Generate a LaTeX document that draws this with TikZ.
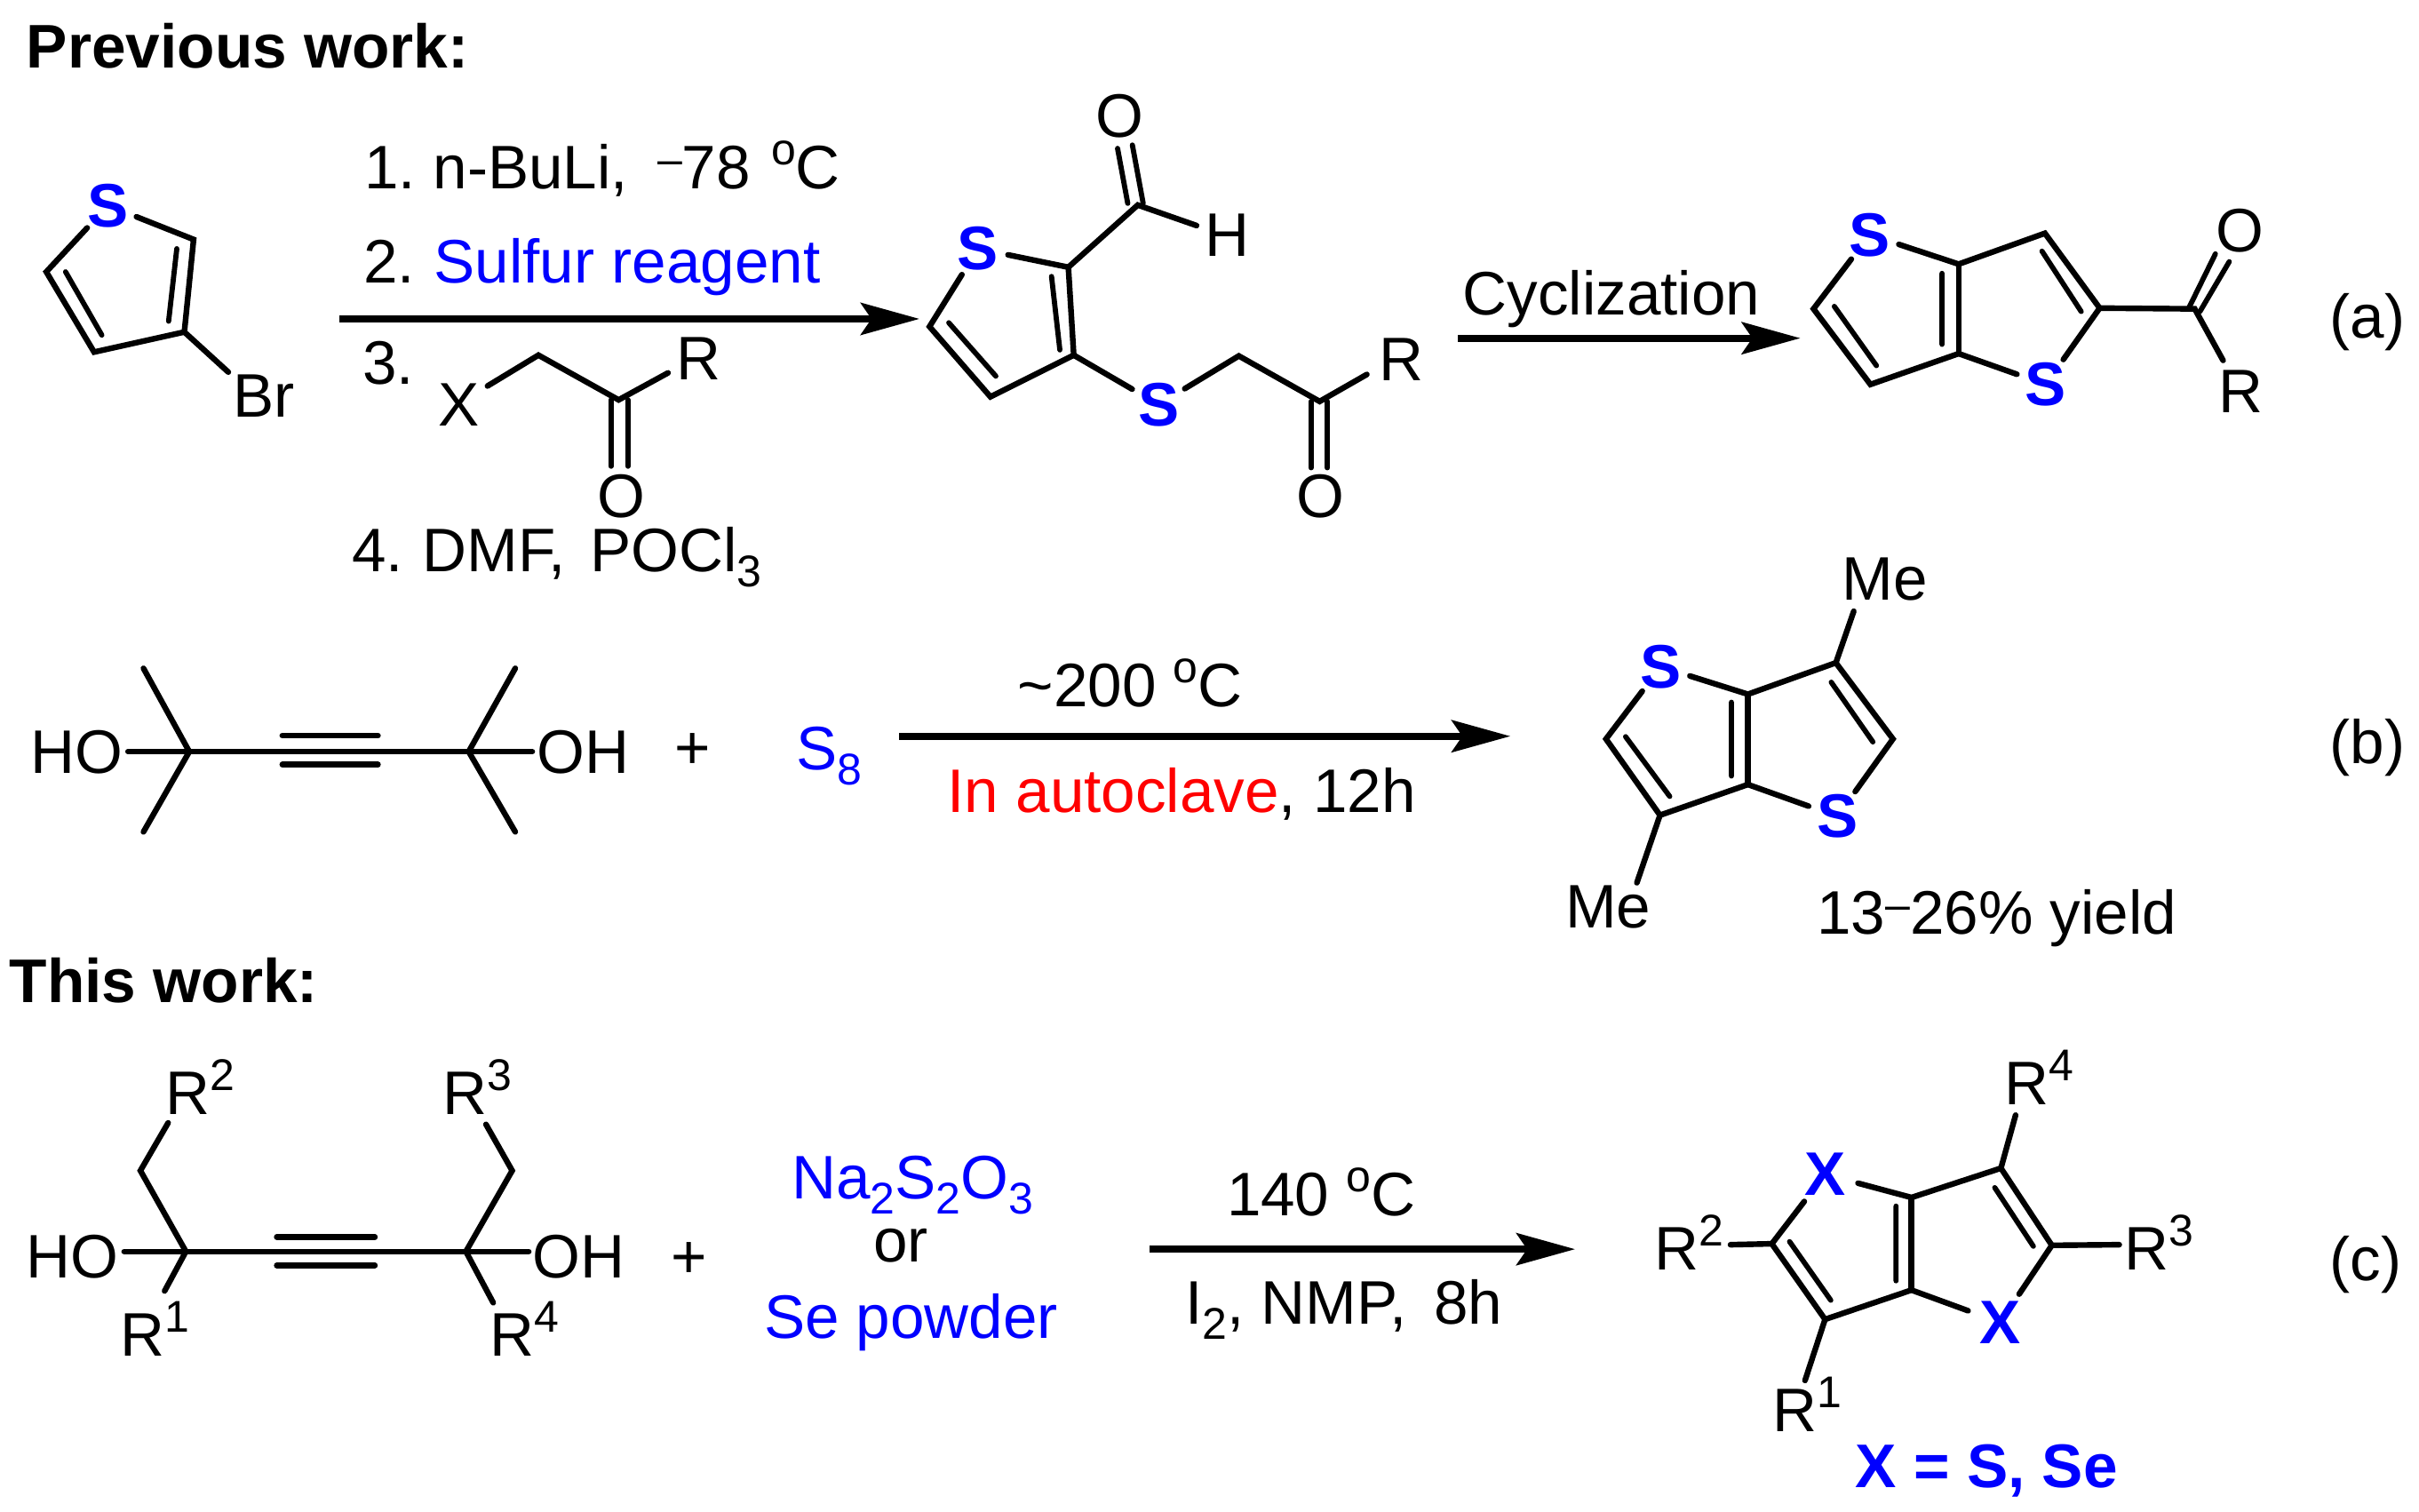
\documentclass[tikz,border=0pt]{standalone}
\usepackage{fontspec}
\setmainfont{Liberation Sans}
\usetikzlibrary{arrows.meta}
\newcommand{\chemsub}[1]{\raisebox{-8.4pt}{\fontsize{25}{30}\selectfont #1}}
\newcommand{\chemsup}[1]{\raisebox{13.6pt}{\fontsize{25}{30}\selectfont #1}}
\newcommand{\smdash}{\raisebox{8pt}{\fontsize{25}{30}\selectfont\textendash}}
\definecolor{pureblue}{RGB}{0,0,255}
\definecolor{purered}{RGB}{255,0,0}
\tikzset{
  txt/.style={inner sep=0pt,anchor=base west,font=\fontsize{34.6}{40}\selectfont},
  head/.style={txt,font=\bfseries\fontsize{34.7}{40}\selectfont},
  atomlabel/.style={circle,inner sep=0pt,minimum size=34pt,text=pureblue,font=\bfseries\fontsize{34.6}{40}\selectfont},
  bond/.style={line width=3.2pt,line cap=round,line join=miter},
  thinbond/.style={line width=2.9pt,line cap=round},
  rxn/.style={line width=3.9pt,-{Stealth[length=33pt,width=18pt,inset=6pt]}},
}
\begin{document}
\begin{tikzpicture}[x=0.86830pt,y=-0.86830pt]
\useasboundingbox (0,-1.2) rectangle (1568,978.8);
% ---------- headings
\node[head] (prev) at (17,43) {Previous work:};
\node[head] (this) at (6,648.5) {This work:};
% ---------- coordinates (atoms and free bond ends)
\foreach \n/\x/\y in {
 a1c2/125.5/154,a1c3/119.5/214,a1c4/61/227,a1c5/30/175,
 a1i1/114.6/160,a1i2/109.3/207,a1i3/42.5/175,a1i4/66/216,a1br/148/240,
 rxe/316/249,rch/349/229,rco/401/258,rr/433/240.5,
 ro1/396/258,ro2/396/301,ro3/407/258,ro4/407/301,
 m2/692.5/172,m3/696/229,m4/642/256,m5/602.5/210.5,
 mi1/681.6/178,mi2/687/225.6,mi3/615/208,mi4/645.5/242.6,
 mc/737.5/131.7,mo1/724.4/95,mo2/731/130.6,mo3/734/92.8,mo4/741/130.6,mh/775.6/145,
 mch/803/229.5,mco/855.4/259,mr/886/241.5,
 mo5/849.7/259,mo6/849.7/302,mo7/860.5/259,mo8/860.5/302,
 p3a/1269.6/170,p3/1325.5/150,p2/1361/198.5,p6a/1269.6/228,p6/1212.4/248,p5/1175.5/199,
 pi1/1258.8/176,pi2/1258.8/222,pi3/1323.6/161.6,pi4/1349/200.7,pi5/1189/197.4,pi6/1216.3/235.8,
 pc/1422.6/199,po1/1436/163.4,po2/1419/198,po3/1445/168.4,po4/1426/200.7,pr/1441/232.4,
 bl/122.7/486,br/303.8/486,bho/83/486,boh/345/486,
 bm1/93/432,bm2/93/538,bm3/334/432,bm4/334/538,
 bt1/183/475.6,bt2/245/475.6,bt3/183/494.4,bt4/245/494.4,
 q3a/1133/448.8,q3/1190/428.4,q2/1227/477.8,q6a/1133/507.3,q6/1076/527.2,q5/1041/477.8,
 qi1/1122.3/454,qi2/1122.3/501.8,qi3/1187/441,qi4/1214/479.7,qi5/1053.7/476.3,qi6/1082.3/515,
 qm1/1201.6/395,qm2/1061/571,
 cl/120.5/810,cr/302/810,cho/80.5/810,coh/342.7/810,
 ct1/179.4/800.6,ct2/243/800.6,ct3/179.4/819,ct4/243/819,
 cc1/91/757.6,cr2/109/726.6,cc2/332/757.6,cr3/315/727.6,cr1/106.7/835.6,cr4/319.7/843.2,
 d3a/1239/775,d3/1297/756,d2/1330/806,d6a/1239/835,d6/1183/854,d5/1148.5/805,
 di1/1229/780.6,di2/1229/829,di3/1293/768.6,di4/1318/806.6,di5/1160/803.6,di6/1186.7/841.6,
 dr4/1306.5/721.6,dr2/1121.7/805.6,dr3/1373.7/805.6,dr1/1170/893.6,
 ar1s/220/205.5,ar1e/596/205.5,ar2s/945/218,ar2e/1167/218,ar3s/583/476,ar3e/979/476,ar4s/745/808.5,ar4e/1021/808.5%
}{\coordinate (\n) at (\x,\y);}
% ---------- 3-bromothiophene
\node[atomlabel] (a1s) at (70,132) {S};
\node[txt] (a1brt) at (151,269) {Br};
\draw[bond] (a1s) -- (a1c2) -- (a1c3) -- (a1c4) -- (a1c5) -- (a1s);
\draw[thinbond] (a1i1) -- (a1i2) (a1i3) -- (a1i4);
\draw[bond] (a1c3) -- (a1br);
% ---------- conditions of step (a)
\draw[rxn] (ar1s) -- (ar1e);
\node[txt] (c1) at (236,121) {1.\hspace{-3pt} n-BuLi,\hspace{7pt} \smdash 78 \hspace{2pt}\chemsup{o}C};
\node[txt] (c2) at (235.5,182) {2.\hspace{-2pt} \textcolor{pureblue}{Sulfur reagent}};
\node[txt] (c3) at (235,248) {3.};
\node[txt] (c4) at (228,369.5) {4.\hspace{-2pt} DMF,\hspace{4pt} POCl\chemsub{3}};
\node[txt] (rxt) at (284,275) {X};
\node[txt] (rrt) at (438.5,245) {R};
\node[txt] (rot) at (387,334) {O};
\draw[bond] (rxe) -- (rch) -- (rco) -- (rr);
\draw[thinbond] (ro1) -- (ro2) (ro3) -- (ro4);
% ---------- intermediate
\node[atomlabel] (ms1) at (634,160) {S};
\node[atomlabel] (ms2) at (751,261) {S};
\node[txt] (mot) at (710,88) {O};
\node[txt] (mht) at (781,165) {H};
\node[txt] (mrt) at (894,245.5) {R};
\node[txt] (mot2) at (840,334) {O};
\draw[bond] (ms1) -- (m2) -- (m3) -- (m4) -- (m5) -- (ms1);
\draw[thinbond] (mi1) -- (mi2) (mi3) -- (mi4);
\draw[bond] (m2) -- (mc) -- (mh);
\draw[thinbond] (mo1) -- (mo2) (mo3) -- (mo4);
\draw[bond] (m3) -- (ms2) -- (mch) -- (mco) -- (mr);
\draw[thinbond] (mo5) -- (mo6) (mo7) -- (mo8);
% ---------- cyclization
\draw[rxn] (ar2s) -- (ar2e);
\node[txt] (cyc) at (948,203) {Cyclization};
% ---------- product (a)
\node[atomlabel] (ps1) at (1212,151) {S};
\node[atomlabel] (ps2) at (1326,248) {S};
\node[txt] (pot) at (1436,162) {O};
\node[txt] (prt) at (1438,266) {R};
\draw[bond] (ps1) -- (p3a) -- (p3) -- (p2) -- (ps2) -- (p6a) -- (p6) -- (p5) -- (ps1);
\draw[bond] (p3a) -- (p6a);
\draw[thinbond] (pi1) -- (pi2) (pi3) -- (pi4) (pi5) -- (pi6);
\draw[bond] (p2) -- (pc) -- (pr);
\draw[thinbond] (po1) -- (po2) (po3) -- (po4);
\node[txt] (la) at (1510,218) {(a)};
% ---------- reaction (b)
\node[txt] (bhot) at (19.5,500) {HO};
\node[txt] (boht) at (348,500) {OH};
\draw[bond] (bho) -- (boh);
\draw[bond] (bm1) -- (bl) -- (bm2);
\draw[bond] (bm3) -- (br) -- (bm4);
\draw[bond] (bt1) -- (bt2) (bt3) -- (bt4);
\node[txt] (bplus) at (437,497) {+};
\node[txt,text=pureblue] (s8) at (516,498) {S\chemsub{8}};
\draw[rxn] (ar3s) -- (ar3e);
\node[txt] (b1) at (659.5,457) {\textasciitilde 200 \chemsup{o}C};
\node[txt] (b2) at (614,525.5) {\textcolor{purered}{In autoclave}, 12h};
\node[atomlabel] (qs1) at (1076.5,431) {S};
\node[atomlabel] (qs2) at (1191,528) {S};
\draw[bond] (qs1) -- (q3a) -- (q3) -- (q2) -- (qs2) -- (q6a) -- (q6) -- (q5) -- (qs1);
\draw[bond] (q3a) -- (q6a);
\draw[thinbond] (qi1) -- (qi2) (qi3) -- (qi4) (qi5) -- (qi6);
\draw[bond] (q3) -- (qm1) (q6) -- (qm2);
\node[txt] (qme1) at (1194,387.5) {Me};
\node[txt] (qme2) at (1014.5,600) {Me};
\node[txt] (yield) at (1177.5,604) {13\smdash 26\% yield};
\node[txt] (lb) at (1510,494) {(b)};
% ---------- reaction (c)
\node[txt] (chot) at (17,827) {HO};
\node[txt] (coht) at (345,827) {OH};
\draw[bond] (cho) -- (coh);
\draw[bond] (cr2) -- (cc1) -- (cl) -- (cr1);
\draw[bond] (cr3) -- (cc2) -- (cr) -- (cr4);
\draw[bond] (ct1) -- (ct2) (ct3) -- (ct4);
\node[txt] (cr2t) at (107,721) {R\chemsup{2}};
\node[txt] (cr3t) at (287,721) {R\chemsup{3}};
\node[txt] (cr1t) at (78,878) {R\chemsup{1}};
\node[txt] (cr4t) at (317.5,878) {R\chemsup{4}};
\node[txt] (cplus) at (435,827) {+};
\node[txt,text=pureblue] (na) at (513,776) {Na\chemsub{2}S\chemsub{2}O\chemsub{3}};
\node[txt] (or) at (566,817) {or};
\node[txt,text=pureblue] (sep) at (495,866) {Se powder};
\draw[rxn] (ar4s) -- (ar4e);
\node[txt] (c140) at (795,787) {140 \chemsup{o}C};
\node[txt] (ci2) at (768,857) {I\chemsub{2}, NMP,\, 8h};
\node[atomlabel,minimum size=38pt] (dx1) at (1183,760) {X};
\node[atomlabel,minimum size=38pt] (dx2) at (1296.5,856) {X};
\draw[bond] (dx1) -- (d3a) -- (d3) -- (d2) -- (dx2) -- (d6a) -- (d6) -- (d5) -- (dx1);
\draw[bond] (d3a) -- (d6a);
\draw[thinbond] (di1) -- (di2) (di3) -- (di4) (di5) -- (di6);
\draw[bond] (d3) -- (dr4) (d5) -- (dr2) (d2) -- (dr3) (d6) -- (dr1);
\node[txt] (dr4t) at (1299,715) {R\chemsup{4}};
\node[txt] (dr2t) at (1072,822) {R\chemsup{2}};
\node[txt] (dr3t) at (1377,822) {R\chemsup{3}};
\node[txt] (dr1t) at (1149,927) {R\chemsup{1}};
\node[head,text=pureblue] (xeq) at (1202.5,963) {X = S, Se};
\node[txt] (lc) at (1510,829) {(c)};
\end{tikzpicture}
\end{document}
